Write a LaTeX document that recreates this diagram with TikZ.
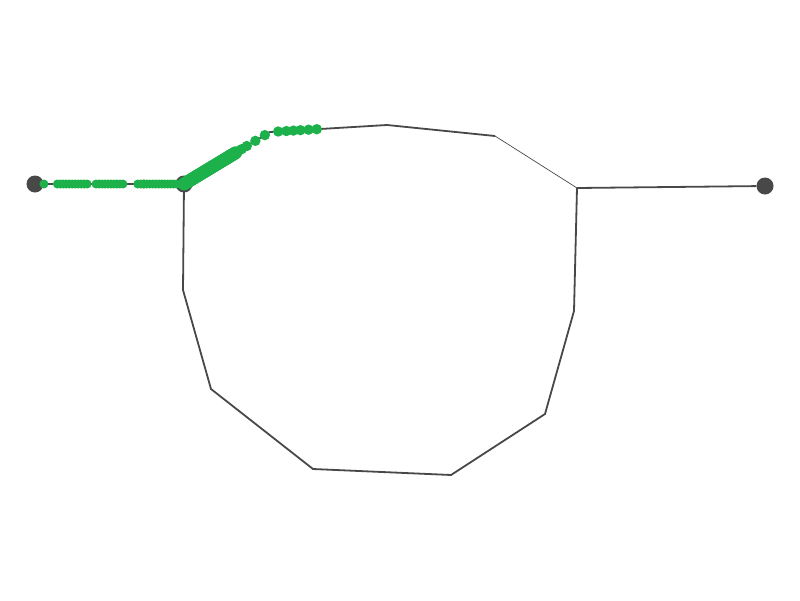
\documentclass[tikz,border=0pt]{standalone}
\usepackage{tikz}
\usetikzlibrary{calc}
\definecolor{walkgreen}{RGB}{29,177,76}
\definecolor{edgegray}{RGB}{72,72,72}
\begin{document}
\begin{tikzpicture}[x = 1pt, y = -1pt,
    edge/.style = {draw = edgegray, line width = 1.8pt},
    thinedge/.style = {draw = edgegray, line width = 0.7pt},
    port/.style = {circle, fill = edgegray, inner sep = 0pt, minimum size = 17pt},
    walker/.style = {fill = walkgreen}]
  \useasboundingbox (0,0) rectangle (800,600);
  % end points and junctions
  \node[port] (a) at (35,184) {};
  \node[port] (b) at (184,184) {};
  \node[port] (c) at (765,186) {};
  % the loop
  \coordinate (p1) at (270,132);
  \coordinate (p2) at (387,125);
  \coordinate (p3) at (495,136);
  \coordinate (p4) at (577,188);
  \coordinate (p5) at (574,311);
  \coordinate (p6) at (545,414);
  \coordinate (p7) at (451,475);
  \coordinate (p8) at (313,469);
  \coordinate (p9) at (211,389);
  \coordinate (p10) at (183,290);
  \draw[edge] (a) -- (b);
  \draw[edge] (b.center) -- (p1) -- (p2) -- (p3);
  \draw[thinedge] (p3) -- (p4);
  \draw[edge] (p4) -- (p5) -- (p6) -- (p7) -- (p8) -- (p9) -- (p10) -- (b.center);
  \draw[edge] (p4) -- (c);
  % walkers
  \fill[red!70!orange] ($(a)!0.73!(b)$) circle (4.5pt);
  \foreach \t in {0.06,0.15,0.17,...,0.36,0.41,0.43,...,0.6,0.69,0.71,...,0.97}
    \fill[walker] ($(a)!\t!(b)$) circle (4.5pt);
  \foreach \t in {0,0.01,...,0.6}
    \fill[walker] ($(b)!\t!(p1)$) circle (6.5pt);
  \foreach \t in {0.63,0.67,0.73,0.83,0.94}
    \fill[walker] ($(b)!\t!(p1)$) circle (5.2pt);
  \foreach \t in {0.07,0.14,0.2,0.26,0.33,0.4}
    \fill[walker] ($(p1)!\t!(p2)$) circle (5.2pt);
\end{tikzpicture}
\end{document}
